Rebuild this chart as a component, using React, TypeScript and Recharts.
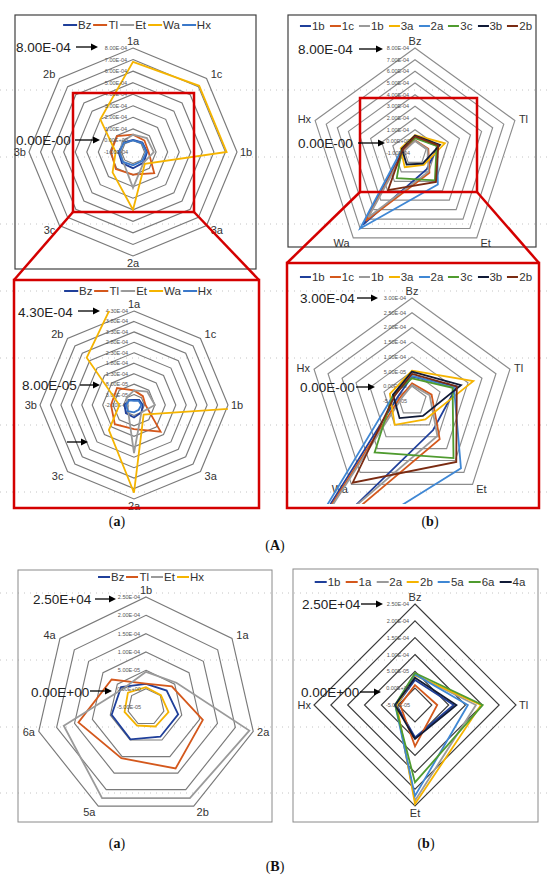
import React from 'react';
import { RadarChart, Radar, PolarGrid, PolarAngleAxis, PolarRadiusAxis } from 'recharts';

// ---------- colours ----------
const C_DKBLUE = '#1f3f9a';
const C_ORANGE = '#d4581c';
const C_GRAY = '#9a9a9a';
const C_YELLOW = '#f5b400';
const C_BLUE = '#3f87d4';
const C_GREEN = '#4f9b2f';
const C_NAVY = '#101a36';
const C_BROWN = '#7a2b12';

// ---------- (A)(a) ----------
const aaCats = ['1a', '1c', '1b', '3a', '2a', '3c', '3b', '2b'];
const aaNames = ['Bz', 'Tl', 'Et', 'Wa', 'Hx'];
const aaColors = [C_DKBLUE, C_ORANGE, C_GRAY, C_YELLOW, '#3a78c9'];
const aaBz = [0.5e-5, 1.5e-5, 2.2e-5, 3.0e-5, 4.0e-5, 3.5e-5, 2.5e-5, 1.5e-5];
const aaTl = [5.0e-5, 4.0e-5, 3.5e-5, 1.6e-4, 9.5e-5, 1.1e-4, 9.0e-5, 9.5e-5];
const aaEt = [5.0e-5, 7.0e-5, 8.0e-5, 3.0e-5, 2.1e-4, 2.0e-5, 1.0e-5, 3.0e-5];
const aaWa = [6.8e-4, 7.1e-4, 7.1e-4, 4.5e-5, 4.0e-4, 1.5e-4, 5.0e-5, 3.0e-4];
const aaHx = [0.0, 1.0e-5, 1.5e-5, 1.2e-5, 1.5e-5, 2.2e-5, 1.8e-5, 1.2e-5];

// ---------- (A)(b) ----------
const abCats = ['Bz', 'Tl', 'Et', 'Wa', 'Hx'];
const abNames = ['1b', '1c', '1b', '3a', '2a', '3c', '3b', '2b'];
const abColors = [C_DKBLUE, C_ORANGE, C_GRAY, C_YELLOW, C_BLUE, C_GREEN, C_NAVY, C_BROWN];
const ab1b = [3.3e-5, 1.1e-4, 7.2e-5, 6.6e-4, 0.0];
const ab1c = [1.0e-5, 2.0e-5, 1.1e-4, 6.2e-4, -0.8e-5];
const ab1bGray = [0.4e-5, 1.3e-5, 9.7e-5, 5.8e-4, -1.4e-5];
const ab3a = [5.3e-5, 1.69e-4, 2.7e-5, 5.0e-5, 2.9e-5];
const ab2a = [3.5e-5, 1.0e-4, 2.33e-4, 7.0e-4, 1.6e-5];
const ab3c = [2.7e-5, 9.5e-5, 1.9e-4, 1.66e-4, 1.8e-5];
const ab3b = [5.0e-5, 1.25e-4, 1.3e-5, 2.2e-5, 1.8e-5];
const ab2b = [4.2e-5, 1.1e-4, 2.06e-4, 2.93e-4, 1.1e-5];

// ---------- (B)(a) ----------
const baCats = ['1b', '1a', '2a', '2b', '5a', '6a', '4a'];
const baNames = ['Bz', 'Tl', 'Et', 'Hx'];
const baColors = [C_DKBLUE, C_ORANGE, C_GRAY, C_YELLOW];
const baBz = [1.3e-5, 2.2e-5, 4.0e-5, 4.0e-5, 4.8e-5, 4.6e-5, 3.7e-5];
const baTl = [1.4e-5, 4.0e-5, 1.09e-4, 1.36e-4, 1.05e-4, 1.39e-4, 7.0e-5];
const baEt = [4.6e-5, 5.6e-5, 2.39e-4, 2.26e-4, 2.26e-4, 1.8e-4, 3.0e-5];
const baHx = [0.4e-5, 0.2e-5, 1.3e-5, 0.9e-5, 0.6e-5, 1.0e-5, 1.3e-5];

// ---------- (B)(b) ----------
const bbCats = ['Bz', 'Tl', 'Et', 'Hx'];
const bbNames = ['1b', '1a', '2a', '2b', '5a', '6a', '4a'];
const bbColors = [C_DKBLUE, C_ORANGE, C_GRAY, C_YELLOW, C_BLUE, C_GREEN, C_NAVY];
const bb1b = [2.4e-5, 6.5e-5, 4.6e-5, 0.5e-5];
const bb1a = [0.9e-5, 1.6e-5, 7.3e-5, -0.6e-5];
const bb2a = [4.0e-5, 1.31e-4, 2.34e-4, 0.6e-5];
const bb2b = [3.8e-5, 1.46e-4, 2.44e-4, 0.4e-5];
const bb5a = [4.1e-5, 1.07e-4, 2.2e-4, 0.9e-5];
const bb6a = [4.5e-5, 1.51e-4, 1.8e-4, 0.9e-5];
const bb4a = [3.1e-5, 7.3e-5, 5.1e-5, 0.9e-5];

// values are handed to the chart in units of 1e-5 (the tick generator
// collapses very small magnitudes); tick labels convert them back.
const UNIT = 1e-5;

function buildRows(cats: string[], series: number[][]) {
  return cats.map((c, i) => {
    const row: any = { cat: c };
    series.forEach((vals, j) => {
      row['s' + j] = vals[i] / UNIT;
    });
    return row;
  });
}

const aaRows = buildRows(aaCats, [aaBz, aaTl, aaEt, aaWa, aaHx]);
const abRows = buildRows(abCats, [ab1b, ab1c, ab1bGray, ab3a, ab2a, ab3c, ab3b, ab2b]);
const baRows = buildRows(baCats, [baBz, baTl, baEt, baHx]);
const bbRows = buildRows(bbCats, [bb1b, bb1a, bb2a, bb2b, bb5a, bb6a, bb4a]);

const fmtE = (v: number) => {
  if (Math.abs(v) < 1e-15) return '0.00E+00';
  const s = v.toExponential(2);
  const [m, e] = s.split('e');
  const ei = parseInt(e, 10);
  const sign = ei < 0 ? '-' : '+';
  return `${m}E${sign}${Math.abs(ei).toString().padStart(2, '0')}`;
};

const FONT = '"Liberation Sans", Arial, sans-serif';

const makeAngleTick = (c: number) => (p: any) => {
  const dx = p.x - c;
  const dy = p.y - c;
  const len = Math.hypot(dx, dy) || 1;
  const ux = dx / len;
  const uy = dy / len;
  const off = 1 + Math.abs(uy) * 4;
  const tx = p.x + ux * off;
  const ty = p.y + uy * off;
  const anchor = ux > 0.25 ? 'start' : ux < -0.25 ? 'end' : 'middle';
  return (
    <text x={tx} y={ty} textAnchor={anchor} dominantBaseline="central" fontSize={11} fill="#333" fontFamily={FONT}>
      {p.payload.value}
    </text>
  );
};

const radiusTick = (p: any) => (
  <text x={p.x - 17} y={p.y} textAnchor="middle" dominantBaseline="central" fontSize={5.5} fill="#555" fontFamily={FONT}>
    {fmtE(p.payload.value * UNIT)}
  </text>
);

const PAD = 30;

function RadarPanel(props: {
  cx: number; cy: number; R: number; rows: any[]; names: string[]; colors: string[];
  domain: [number, number]; tickCount: number; gridColor: string; clip?: boolean;
}) {
  const { cx, cy, R, rows, names, colors, domain, tickCount, gridColor, clip } = props;
  const S = 2 * R + 2 * PAD;
  const c = S / 2;
  const dom: [number, number] = [domain[0] / UNIT, domain[1] / UNIT];
  const chart = (withGrid: boolean, withSeries: boolean) => (
    <RadarChart width={S} height={S} data={rows} cx={c} cy={c} outerRadius={R} margin={{ top: 0, right: 0, bottom: 0, left: 0 }}>
      {withGrid && <PolarGrid gridType="polygon" radialLines={false} stroke={gridColor} strokeWidth={1.15} />}
      <PolarAngleAxis dataKey="cat" axisLine={false} tickLine={false} tickSize={2} tick={withGrid ? makeAngleTick(c) : false} />
      <PolarRadiusAxis angle={90} type="number" domain={dom} tickCount={tickCount} allowDataOverflow axisLine={false} tickLine={false} tick={withGrid ? radiusTick : false} />
      {withSeries &&
        names.map((n, j) => (
          <Radar key={j} name={n} dataKey={'s' + j} stroke={colors[j]} strokeWidth={1.8} fill="none" fillOpacity={0} dot={false} isAnimationActive={false} />
        ))}
    </RadarChart>
  );
  return (
    <>
      <div style={{ position: 'absolute', left: cx - c, top: cy - c }}>{chart(true, !clip)}</div>
      {clip && (
        <div style={{ position: 'absolute', left: cx - R, top: cy - R, width: 2 * R, height: 2 * R, overflow: 'hidden' }}>
          <div style={{ position: 'absolute', left: -PAD, top: -PAD }}>{chart(false, true)}</div>
        </div>
      )}
    </>
  );
}

function LegendRow(props: { x: number; y: number; names: string[]; colors: string[]; lineW: number; gap: number }) {
  const { x, y, names, colors, lineW, gap } = props;
  return (
    <div style={{ position: 'absolute', left: x, top: y, transform: 'translate(-50%, -50%)', display: 'flex', alignItems: 'center', whiteSpace: 'nowrap', fontFamily: FONT, fontSize: 11.5, color: '#333' }}>
      {names.map((n, i) => (
        <span key={i} style={{ display: 'flex', alignItems: 'center', marginRight: i < names.length - 1 ? gap : 0 }}>
          <span style={{ display: 'inline-block', width: lineW, height: 2, background: colors[i], marginRight: 1 }} />
          <span>{n}</span>
        </span>
      ))}
    </div>
  );
}

const Arrow = ({ x1, x2, y }: { x1: number; x2: number; y: number }) => (
  <g>
    <line x1={x1} y1={y} x2={x2 - 5} y2={y} stroke="#000" strokeWidth={1.3} />
    <polygon points={`${x2},${y} ${x2 - 7},${y - 3.5} ${x2 - 7},${y + 3.5}`} fill="#000" />
  </g>
);

const BigLabel = ({ x, y, t }: { x: number; y: number; t: string }) => (
  <text x={x} y={y} dominantBaseline="central" fontSize={13.5} fill="#222" fontFamily={FONT}>{t}</text>
);

const hDots = [90, 157, 224, 291, 358, 425, 492, 593, 660, 727, 793];

export default function App() {
  const RED = '#d40000';
  return (
    <div style={{ position: 'absolute', left: 0, top: 0, width: 550, height: 875, background: '#fff', overflow: 'hidden' }}>
      <svg width={550} height={875} style={{ position: 'absolute', left: 0, top: 0 }}>
        {hDots.map((y) => (
          <line key={y} x1={0} x2={550} y1={y} y2={y} stroke="#c4c4c4" strokeWidth={1} strokeDasharray="1 5" />
        ))}
        <rect x={15} y={15} width={241} height={254} fill="none" stroke="#404040" strokeWidth={1.2} />
        <rect x={288} y={15} width={248} height={232} fill="none" stroke="#404040" strokeWidth={1.2} />
        <rect x={18} y={570} width={254} height={252} fill="none" stroke="#8a8a8a" strokeWidth={1} />
        <rect x={293} y={569} width={245} height={253} fill="none" stroke="#8a8a8a" strokeWidth={1} />
      </svg>

      <RadarPanel cx={133} cy={152} R={104} rows={aaRows} names={aaNames} colors={aaColors} domain={[-1e-4, 8e-4]} tickCount={10} gridColor="#7a7a7a" />
      <RadarPanel cx={134} cy={405} R={94} rows={aaRows} names={aaNames} colors={aaColors} domain={[-2e-5, 4.3e-4]} tickCount={10} gridColor="#7a7a7a" clip />
      <RadarPanel cx={415} cy={153} R={105} rows={abRows} names={abNames} colors={abColors} domain={[-1e-4, 8e-4]} tickCount={10} gridColor="#8c8c8c" />
      <RadarPanel cx={412} cy={401} R={103} rows={abRows} names={abNames} colors={abColors} domain={[-5e-5, 3e-4]} tickCount={8} gridColor="#8c8c8c" clip />
      <RadarPanel cx={146} cy={707} R={110} rows={baRows} names={baNames} colors={baColors} domain={[-5e-5, 2.5e-4]} tickCount={7} gridColor="#7a7a7a" />
      <RadarPanel cx={415} cy={705} R={101} rows={bbRows} names={bbNames} colors={bbColors} domain={[-5e-5, 2.5e-4]} tickCount={7} gridColor="#3a3a3a" />

      <LegendRow x={137} y={25} names={aaNames} colors={aaColors} lineW={14} gap={2} />
      <LegendRow x={138} y={291} names={aaNames} colors={aaColors} lineW={14} gap={2} />
      <LegendRow x={416} y={26} names={abNames} colors={abColors} lineW={11} gap={5} />
      <LegendRow x={416} y={277} names={abNames} colors={abColors} lineW={11} gap={5} />
      <LegendRow x={151} y={577} names={baNames} colors={baColors} lineW={12} gap={2} />
      <LegendRow x={420} y={582} names={bbNames} colors={bbColors} lineW={12} gap={5} />

      <svg width={550} height={875} style={{ position: 'absolute', left: 0, top: 0, pointerEvents: 'none' }}>
        <rect x={73} y={93} width={121} height={119} fill="none" stroke={RED} strokeWidth={2.5} />
        <line x1={73} y1={212} x2={14} y2={280} stroke={RED} strokeWidth={2.5} />
        <line x1={194} y1={212} x2={259} y2={280} stroke={RED} strokeWidth={2.5} />
        <rect x={14} y={280} width={245} height={228} fill="none" stroke={RED} strokeWidth={2.5} />
        <rect x={360} y={98} width={117} height={94} fill="none" stroke={RED} strokeWidth={2.5} />
        <line x1={360} y1={192} x2={287} y2={263} stroke={RED} strokeWidth={2.5} />
        <line x1={477} y1={192} x2={539} y2={263} stroke={RED} strokeWidth={2.5} />
        <rect x={287} y={263} width={252} height={245} fill="none" stroke={RED} strokeWidth={2.5} />

        <BigLabel x={16} y={47} t="8.00E-04" />
        <Arrow x1={76} x2={98} y={47} />
        <BigLabel x={16} y={140} t="0.00E-00" />
        <Arrow x1={75} x2={100} y={140} />

        <BigLabel x={18} y={312} t="4.30E-04" />
        <Arrow x1={78} x2={100} y={311} />
        <BigLabel x={22} y={385} t="8.00E-05" />
        <Arrow x1={80} x2={100} y={385} />
        <Arrow x1={67} x2={88} y={442} />

        <BigLabel x={298} y={49} t="8.00E-04" />
        <Arrow x1={359} x2={383} y={49} />
        <BigLabel x={298} y={143} t="0.00E-00" />
        <Arrow x1={358} x2={385} y={143} />

        <BigLabel x={300} y={298} t="3.00E-04" />
        <Arrow x1={357} x2={378} y={298} />
        <BigLabel x={300} y={387} t="0.00E-00" />
        <Arrow x1={356} x2={375} y={387} />

        <BigLabel x={33} y={599} t="2.50E+04" />
        <Arrow x1={95} x2={116} y={599} />
        <BigLabel x={31} y={692} t="0.00E+00" />
        <Arrow x1={90} x2={112} y={691} />

        <BigLabel x={302} y={604} t="2.50E+04" />
        <Arrow x1={361} x2={383} y={604} />
        <BigLabel x={301} y={692} t="0.00E+00" />
        <Arrow x1={360} x2={381} y={692} />

        <g fontFamily='"Liberation Serif", "DejaVu Serif", serif' fontSize={14} fill="#111" textAnchor="middle">
          <text x={117} y={526}>(<tspan fontWeight="bold">a</tspan>)</text>
          <text x={430} y={526}>(<tspan fontWeight="bold">b</tspan>)</text>
          <text x={275} y={550}>(<tspan fontWeight="bold">A</tspan>)</text>
          <text x={117} y={848}>(<tspan fontWeight="bold">a</tspan>)</text>
          <text x={426} y={848}>(<tspan fontWeight="bold">b</tspan>)</text>
          <text x={275} y={871}>(<tspan fontWeight="bold">B</tspan>)</text>
        </g>
      </svg>
    </div>
  );
}
